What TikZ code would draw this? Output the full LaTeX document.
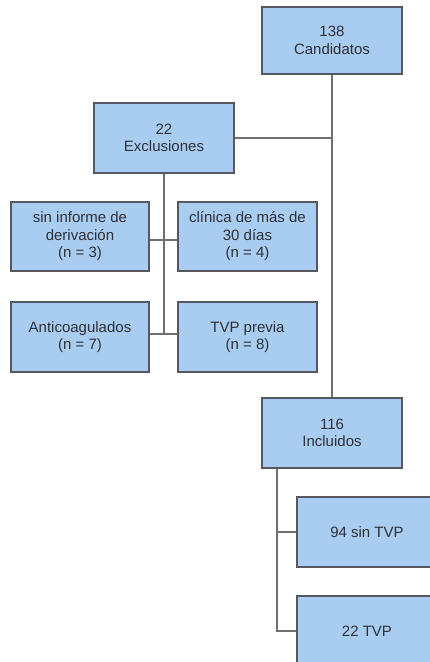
\documentclass[tikz,border=0pt]{standalone}
\usepackage{fontspec}
\setmainfont{Liberation Sans}
\definecolor{boxfill}{RGB}{169,205,241}
\definecolor{boxline}{RGB}{85,88,95}
\definecolor{linkgray}{RGB}{112,112,112}
\definecolor{txt}{RGB}{45,48,55}
\begin{document}
\begin{tikzpicture}[x=1pt,y=-1pt,
  box/.style={draw=boxline, fill=boxfill, line width=1.1pt,
    minimum width=140pt, minimum height=70pt, inner sep=0pt,
    align=center, text=txt, font=\fontsize{15}{17.5}\selectfont},
  link/.style={draw=linkgray, line width=1.4pt}]
\useasboundingbox (0,0) rectangle (430,662);
\clip (0,0) rectangle (430,662);

% boxes
\node[box, minimum height=67pt] (cand) at (332,40.5) {138\\Candidatos};
\node[box] (excl) at (164,138) {22\\Exclusiones};
\node[box, minimum width=138pt, minimum height=69pt] (sininf) at (80,236.5) {sin informe de\\derivación\\(n = 3)};
\node[box, minimum width=139pt, minimum height=69pt] (clin) at (247.5,236.5) {clínica de más de\\30 días\\(n = 4)};
\node[box, minimum width=138pt] (antic) at (80,337) {Anticoagulados\\(n = 7)};
\node[box, minimum width=139pt] (tvpprev) at (247.5,337) {TVP previa\\(n = 8)};
\node[box] (incl) at (332,433) {116\\Incluidos};
\node[box] (sintvp) at (367,532) {94 sin TVP};
\node[box] (tvp) at (367,631) {22 TVP};

% junction points
\coordinate (j1) at (164,240);
\coordinate (j2) at (164,334);
\coordinate (k) at (277,0);

% connectors
\draw[link] (cand.south) -- (incl.north);
\draw[link] (excl.east) -- (excl.east -| cand.south);
\draw[link] (excl.south) -- (j2);
\draw[link] (sininf.east |- j1) -- (clin.west |- j1);
\draw[link] (antic.east |- j2) -- (tvpprev.west |- j2);
\draw[link] (incl.south -| k) -- (k |- tvp.west) -- (tvp.west);
\draw[link] (k |- sintvp.west) -- (sintvp.west);
\end{tikzpicture}
\end{document}
